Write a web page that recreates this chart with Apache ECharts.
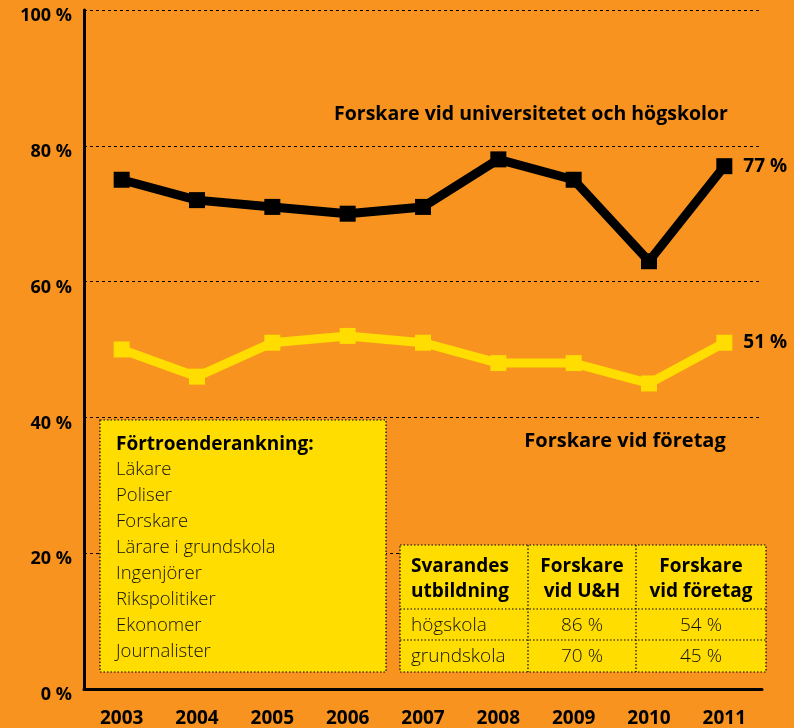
<!DOCTYPE html>
<html>
<head>
<meta charset="utf-8">
<script src="https://cdn.jsdelivr.net/npm/echarts@6/dist/echarts.min.js"></script>
<style>
  html, body { margin: 0; padding: 0; background: #f7931e; }
  #chart { width: 794px; height: 728px; }
</style>
</head>
<body>
<div id="chart"></div>
<script>
// data
const years = ["2003", "2004", "2005", "2006", "2007", "2008", "2009", "2010", "2011"];
const universitet = [75, 72, 71, 70, 71, 78, 75, 63, 77];
const foretag = [50, 46, 51, 52, 51, 48, 48, 45, 51];
const yTicks = [0, 20, 40, 60, 80, 100];

const rankingTitle = "Förtroenderankning:";
const ranking = ["Läkare", "Poliser", "Forskare", "Lärare i grundskola", "Ingenjörer", "Rikspolitiker", "Ekonomer", "Journalister"];

const tableHead = [["Svarandes", "utbildning"], ["Forskare", "vid U&H"], ["Forskare", "vid företag"]];
const tableRows = ["högskola", "grundskola"];
const uhValues = [86, 70];
const foretagValues = [54, 45];

const FONT = "'Open Sans', sans-serif";
const BG = "#f7931e";
const YELLOW = "#ffdd00";

const chart = echarts.init(document.getElementById("chart"));

// ranking box
const box = { x: 100, y: 420, w: 286, h: 252 };
const boxItems = [
  {
    type: "rect", z: 5,
    shape: { x: box.x, y: box.y, width: box.w, height: box.h },
    style: { fill: YELLOW, stroke: "#000", lineWidth: 1.2, lineDash: [1.5, 2] }
  },
  {
    type: "text", z: 6, x: 116, y: 445,
    style: { text: rankingTitle, font: "bold 19px " + FONT, fill: "#000", verticalAlign: "middle" }
  }
];
ranking.forEach((name, i) => {
  boxItems.push({
    type: "text", z: 6, x: 116, y: 470 + i * 25.9,
    style: { text: name, font: "300 18.5px " + FONT, fill: "#111", verticalAlign: "middle" }
  });
});

// table
const cols = [400, 528, 636, 766];
const tableItems = [
  {
    type: "rect", z: 5,
    shape: { x: 400, y: 545, width: 366, height: 127 },
    style: { fill: YELLOW, stroke: "#000", lineWidth: 1.2, lineDash: [1.5, 2] }
  }
];
[528, 636].forEach(cx => {
  tableItems.push({
    type: "line", z: 6,
    shape: { x1: cx, y1: 545, x2: cx, y2: 672 },
    style: { stroke: "#000", lineWidth: 1.2, lineDash: [1.5, 2] }
  });
});
[609, 640].forEach(ry => {
  tableItems.push({
    type: "line", z: 6,
    shape: { x1: 400, y1: ry, x2: 766, y2: ry },
    style: { stroke: "#000", lineWidth: 1.2, lineDash: [1.5, 2] }
  });
});
tableHead.forEach((lines, c) => {
  const left = c === 0;
  const cx = left ? 411 : (cols[c] + cols[c + 1]) / 2;
  lines.forEach((line, k) => {
    tableItems.push({
      type: "text", z: 7, x: cx, y: 567 + k * 25,
      style: { text: line, font: "bold 19px " + FONT, fill: "#000", align: left ? "left" : "center", verticalAlign: "middle" }
    });
  });
});
tableRows.forEach((name, r) => {
  const cy = r === 0 ? 626 : 657;
  const cells = [
    { x: 411, text: name, align: "left" },
    { x: 582, text: uhValues[r] + " %", align: "center" },
    { x: 701, text: foretagValues[r] + " %", align: "center" }
  ];
  cells.forEach(cell => {
    tableItems.push({
      type: "text", z: 7, x: cell.x, y: cy,
      style: { text: cell.text, font: "300 19px " + FONT, fill: "#111", align: cell.align, verticalAlign: "middle" }
    });
  });
});

const titles = [
  {
    type: "text", z: 6, x: 531, y: 114,
    style: { text: "Forskare vid universitetet och högskolor", font: "bold 19.5px " + FONT, fill: "#000", align: "center", verticalAlign: "middle" }
  },
  {
    type: "text", z: 6, x: 625, y: 441,
    style: { text: "Forskare vid företag", font: "bold 20px " + FONT, fill: "#000", align: "center", verticalAlign: "middle" }
  }
];

const endLabel = {
  show: true, distance: 19, formatter: "{c} %",
  color: "#000", fontFamily: FONT, fontWeight: "bold", fontSize: 19
};

const option = {
  backgroundColor: BG,
  animation: false,
  grid: { left: 84, right: 32, top: 10, bottom: 38 },
  xAxis: {
    type: "category",
    data: years,
    boundaryGap: true,
    axisLine: { lineStyle: { color: "#000", width: 3 } },
    axisTick: { show: false },
    axisLabel: { color: "#000", fontFamily: FONT, fontWeight: "bold", fontSize: 19, margin: 20 }
  },
  yAxis: {
    type: "value",
    min: yTicks[0],
    max: yTicks[yTicks.length - 1],
    interval: 20,
    axisLine: { show: true, lineStyle: { color: "#000", width: 3 } },
    axisTick: { show: false },
    axisLabel: {
      color: "#000", fontFamily: FONT, fontWeight: "bold", fontSize: 18, margin: 12,
      verticalAlign: "top", lineHeight: 12, formatter: "{value} %"
    },
    splitLine: { show: true, lineStyle: { color: "#000", width: 1, type: [3, 3] } }
  },
  series: [
    {
      name: "Forskare vid universitetet och högskolor",
      type: "line",
      data: universitet,
      symbol: "rect",
      symbolSize: 16,
      itemStyle: { color: "#000" },
      lineStyle: { color: "#000", width: 9 },
      z: 3,
      endLabel: endLabel
    },
    {
      name: "Forskare vid företag",
      type: "line",
      data: foretag,
      symbol: "rect",
      symbolSize: 16,
      itemStyle: { color: YELLOW },
      lineStyle: { color: YELLOW, width: 9 },
      z: 3,
      endLabel: endLabel
    }
  ],
  graphic: [].concat(boxItems, tableItems, titles)
};

chart.setOption(option);
</script>
</body>
</html>
